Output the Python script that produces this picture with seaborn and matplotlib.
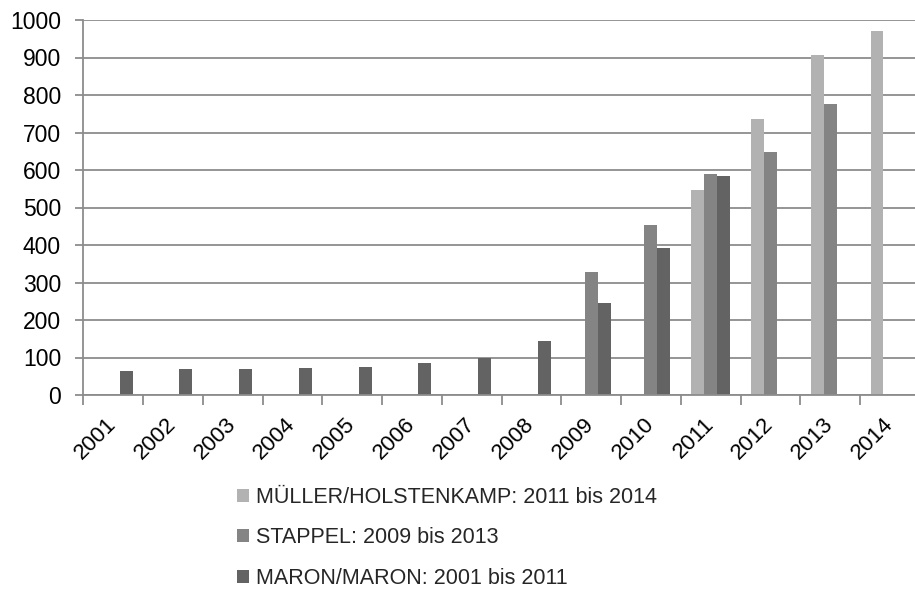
import matplotlib
matplotlib.use("Agg")
import matplotlib.pyplot as plt
import seaborn as sns
import pandas as pd
import numpy as np
from matplotlib.ticker import FixedLocator

years = [str(y) for y in range(2001, 2015)]

series_names = ["MÜLLER/HOLSTENKAMP: 2011 bis 2014",
                "STAPPEL: 2009 bis 2013",
                "MARON/MARON: 2001 bis 2011"]

mueller_years = ["2011", "2012", "2013", "2014"]
mueller_vals = [547, 735, 907, 972]

stappel_years = ["2009", "2010", "2011", "2012", "2013"]
stappel_vals = [327, 454, 590, 648, 775]

maron_years = ["2001", "2002", "2003", "2004", "2005", "2006", "2007",
               "2008", "2009", "2010", "2011"]
maron_vals = [65, 69, 69, 73, 76, 85, 100, 143, 246, 391, 585]

colors = ["#b2b2b2", "#848484", "#636363"]

rows = []
for name, ys, vs in zip(series_names,
                        [mueller_years, stappel_years, maron_years],
                        [mueller_vals, stappel_vals, maron_vals]):
    for y, v in zip(ys, vs):
        rows.append({"Jahr": y, "Wert": v, "Serie": name})
df = pd.DataFrame(rows)

sns.set_style("white")
plt.rcParams["font.family"] = ["Liberation Sans", "DejaVu Sans"]

fig = plt.figure(figsize=(9.15, 5.9), dpi=100)
ax = fig.add_axes([83.3 / 915, 195 / 590, 836.5 / 915, 375 / 590])

sns.barplot(data=df, x="Jahr", y="Wert", hue="Serie", order=years,
            hue_order=series_names, palette=colors, saturation=1,
            width=0.65, gap=0, linewidth=0, errorbar=None, ax=ax)

gridc = "#8c8c8c"
ax.set_ylim(0, 1000)
ax.set_xlim(-0.5, 13.5)
ax.set_yticks(np.arange(0, 1001, 100))
ax.yaxis.grid(True, color=gridc, linewidth=1.3)
ax.set_axisbelow(True)
for s in ["top", "right"]:
    ax.spines[s].set_visible(False)
for s in ["left", "bottom"]:
    ax.spines[s].set_color(gridc)
    ax.spines[s].set_linewidth(1.3)

ax.set_xlabel("")
ax.set_ylabel("")
ax.tick_params(axis="y", which="major", length=6, width=1.3, color=gridc,
               pad=10, labelsize=16.5, labelcolor="black", left=True)
ax.tick_params(axis="x", which="major", length=0, pad=19, labelsize=16,
               labelcolor="black")
ax.xaxis.set_minor_locator(FixedLocator(np.arange(-0.5, 14, 1)))
ax.tick_params(axis="x", which="minor", length=7, width=1.3, color=gridc,
               bottom=True)
for lbl in ax.get_xticklabels():
    lbl.set_rotation(45)
    lbl.set_ha("right")
    lbl.set_va("center")
    lbl.set_rotation_mode("anchor")

handles, labels = ax.get_legend_handles_labels()
if ax.legend_:
    ax.legend_.remove()
fig.legend(handles, labels, loc="upper left",
           bbox_to_anchor=(237 / 915, 1 - 487 / 590),
           frameon=False, fontsize=15.5, handlelength=0.56,
           handleheight=0.56, handletextpad=0.33, labelspacing=0.9,
           borderaxespad=0, borderpad=0)

fig.savefig("out.png", dpi=100)
